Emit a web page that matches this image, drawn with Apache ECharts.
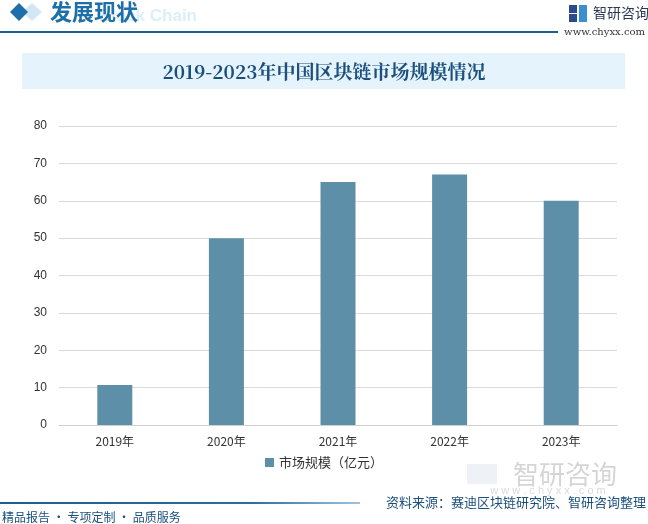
<!DOCTYPE html>
<html><head><meta charset="utf-8">
<script src="https://cdn.jsdelivr.net/npm/echarts@6/dist/echarts.min.js"></script>
<style>html,body{margin:0;padding:0;background:#fff}#c{width:648px;height:524px}</style>
</head><body><div id="c"></div>
<script>
const categories = ['2019年','2020年','2021年','2022年','2023年'];
const marketSize = [10.7, 50.0, 65.0, 67.0, 60.0];
const yTicks = [0,10,20,30,40,50,60,70,80];
const seriesName = '市场规模（亿元）';
const titleText = '2019-2023年中国区块链市场规模情况';
const headerText = '发展现状';
const sourceText = '资料来源：赛迪区块链研究院、智研咨询整理';
const sloganText = '精品报告 · 专项定制 · 品质服务';

const chart = echarts.init(document.getElementById('c'));
const dark = '#1B4F7C';
chart.setOption({
  animation:false,
  grid:{left:59,right:31,top:126,bottom:99},
  legend:{bottom:50,left:'center',itemWidth:9,itemHeight:9,icon:'rect',
    textStyle:{fontSize:13,color:'#333',fontFamily:'Noto Sans CJK SC'},data:[seriesName]},
  xAxis:{type:'category',data:categories,
    axisLine:{lineStyle:{color:'#d0d0d0'}},axisTick:{show:false},
    axisLabel:{color:'#333',fontSize:12,margin:10,fontFamily:'Noto Sans CJK SC'}},
  yAxis:{type:'value',min:yTicks[0],max:yTicks[yTicks.length-1],interval:10,
    axisLine:{show:false},axisTick:{show:false},
    axisLabel:{color:'#333',fontSize:12,margin:12},
    splitLine:{lineStyle:{color:'#d9d9d9'}}},
  series:[{name:seriesName,type:'bar',data:marketSize,barWidth:35,itemStyle:{color:'#5E8FA8'}}],
  graphic:[
    {type:'rect',shape:{x:22,y:53,width:603,height:36},style:{fill:'#E5F3FC'}},
    {type:'text',x:324,y:72,style:{text:titleText,fill:dark,font:'bold 19px "Noto Serif CJK SC", "Noto Sans CJK SC", serif',textAlign:'center',textVerticalAlign:'middle'}},
    {type:'text',x:197,y:16,style:{text:'Block Chain',fill:'#DCEEFA',font:'bold 17px Arial',textAlign:'right',textVerticalAlign:'middle'}},
    {type:'polygon',shape:{points:[[32,3],[42,12],[32,21],[22,12]]},style:{fill:'#D3E6F3'}},
    {type:'polygon',shape:{points:[[19,3],[28,12],[19,21],[10,12]]},style:{fill:'#1C6FA8'}},
    {type:'text',x:50,y:12,style:{text:headerText,fill:'#1C6FA8',font:'bold 22px "Noto Sans CJK SC"',textVerticalAlign:'middle'}},
    {type:'rect',shape:{x:0,y:31,width:558,height:2},style:{fill:'#1C5F92'}},
    {type:'rect',shape:{x:569,y:5,width:8,height:8},style:{fill:'#2A4B8C'}},
    {type:'rect',shape:{x:569,y:14,width:8,height:8},style:{fill:'#2A4B8C'}},
    {type:'rect',shape:{x:579,y:5,width:8,height:17},style:{fill:'#3A8FD0'}},
    {type:'text',x:593,y:13,style:{text:'智研咨询',fill:'#2B3A55',font:'14px "Noto Sans CJK SC"',textVerticalAlign:'middle'}},
    {type:'text',x:645,y:32,style:{text:'www.chyxx.com',fill:'#333',font:'10px "DejaVu Serif"',textAlign:'right',textVerticalAlign:'middle'}},
    {type:'rect',shape:{x:467,y:464,width:30,height:20},style:{fill:'rgba(160,175,200,0.18)'}},
    {type:'text',x:565,y:474,style:{text:'智研咨询',fill:'rgba(150,150,150,0.4)',font:'26px "Noto Sans CJK SC"',textAlign:'center',textVerticalAlign:'middle'}},
    {type:'text',x:548,y:491,style:{text:'w w w . c h y x x . c o m',fill:'rgba(150,150,150,0.35)',font:'11px Arial',textAlign:'center',textVerticalAlign:'middle'}},
    {type:'rect',shape:{x:0,y:502,width:360,height:2},style:{fill:{type:'linear',x:0,y:0,x2:1,y2:0,colorStops:[{offset:0,color:'#1C5F92'},{offset:0.7,color:'#2A6FA0'},{offset:1,color:'#9FC3DC'}]}}},
    {type:'text',x:2,y:517,style:{text:sloganText,fill:dark,font:'12px "Noto Sans CJK SC"',textVerticalAlign:'middle'}},
    {type:'text',x:646,y:502,style:{text:sourceText,fill:dark,font:'13px "Noto Sans CJK SC"',textAlign:'right',textVerticalAlign:'middle'}}
  ]
});
</script></body></html>
